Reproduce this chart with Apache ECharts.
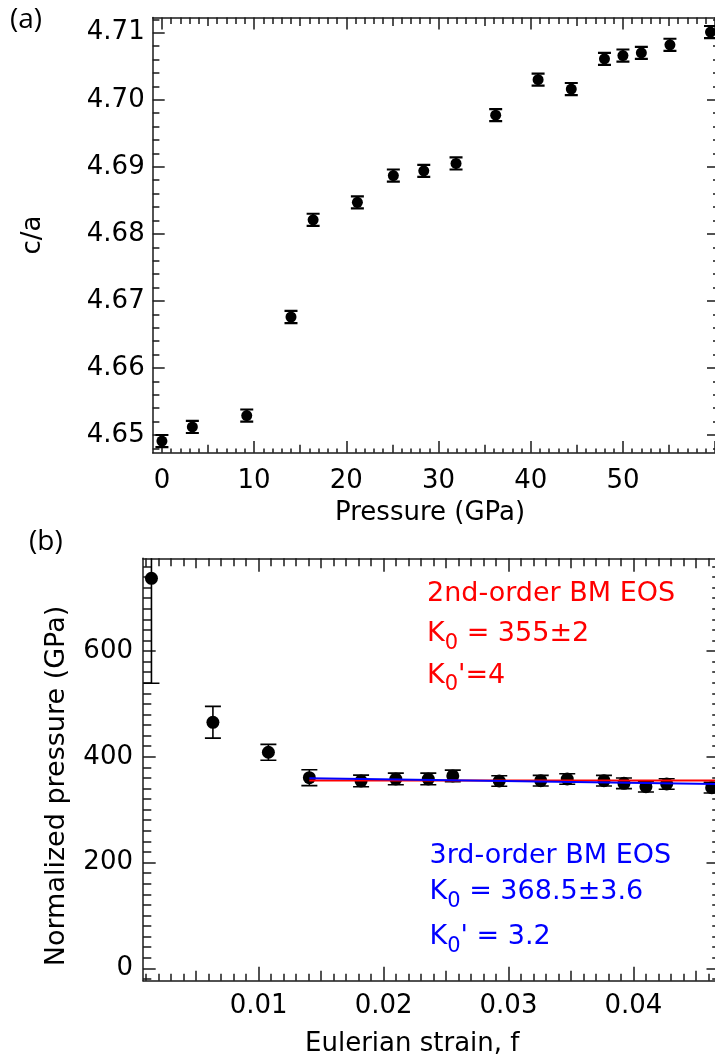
<!DOCTYPE html>
<html>
<head>
<meta charset="utf-8">
<script src="https://cdn.jsdelivr.net/npm/echarts@6/dist/echarts.min.js"></script>
<style>
html,body{margin:0;padding:0;background:#fff;}
#chart{width:715px;height:1064px;}
</style>
</head>
<body>
<div id="chart"></div>
<script>
// ---------- data : panel (a) ----------
const pressureGPa = [0, 3.3, 9.2, 14.0, 16.4, 21.2, 25.1, 28.4, 31.9, 36.2, 40.8, 44.4, 48.0, 50.0, 52.0, 55.1, 59.5];
const caRatio = [4.6491, 4.6512, 4.6529, 4.6676, 4.6821, 4.6847, 4.6887, 4.6894, 4.6905, 4.6977, 4.7030, 4.7016, 4.7061, 4.7066, 4.7070, 4.7082, 4.7101];
const caError = [0.0009, 0.0009, 0.0009, 0.0009, 0.0009, 0.0009, 0.0009, 0.0009, 0.0009, 0.0009, 0.0009, 0.0009, 0.0009, 0.0009, 0.0009, 0.0009, 0.0009];
const pressureTickLabels = [0, 10, 20, 30, 40, 50];
const caTickLabels = [4.65, 4.66, 4.67, 4.68, 4.69, 4.70, 4.71];

// ---------- data : panel (b) ----------
const strainF = [0.00142, 0.00634, 0.01078, 0.01406, 0.0182, 0.02098, 0.02358, 0.02554, 0.02926, 0.03258, 0.0347, 0.03764, 0.03924, 0.0410, 0.04266, 0.04626];
const normPressure = [737.5, 465.2, 408.5, 360.4, 354.2, 358.0, 358.0, 363.7, 354.2, 354.8, 358.0, 354.8, 349.8, 343.4, 348.5, 341.5];
const normPressureErr = [198.5, 30, 15, 15, 11, 11, 11, 11, 10, 10, 10, 10, 10, 10, 10, 10];
const fit2ndOrder = [[0.01406, 355.0], [0.0466, 355.0]];
const fit3rdOrder = [[0.01406, 359.4], [0.0466, 348.4]];
const strainTickLabels = [0.01, 0.02, 0.03, 0.04];
const normPTickLabels = [0, 200, 400, 600];

// ---------- tick positions ----------
function range(a, b, step, dec) {
  const out = [];
  for (let v = a; v <= b + step / 1000; v += step) out.push(+v.toFixed(dec));
  return out;
}
const pTicksMajor = range(0, 60, 10, 0);
const pTicksMed = range(5, 55, 10, 0);
const pTicksMinor = range(0, 60, 1, 0);
const caTicksMajor = caTickLabels;
const caTicksMinor = range(4.648, 4.712, 0.002, 3);
const fTicksMajor = strainTickLabels;
const fTicksMed = range(0.005, 0.045, 0.01, 3);
const fTicksMinor = range(0.001, 0.046, 0.001, 3);
const npTicksMajor = normPTickLabels;
const npTicksMinor = range(-20, 760, 20, 0);

// ---------- layout ----------
const FONT = '"DejaVu Sans", sans-serif';
const AX = '#1a1a1a';
const FS = 26;

const A = {left: 152.7, top: 17.5, width: 563.8, height: 435.2, xmin: -1, xmax: 60.15, ymin: 4.64736, ymax: 4.71227};
const B = {left: 143.0, top: 558.3, width: 573.5, height: 422.4, xmin: 0.000744, xmax: 0.046648, ymin: -23.45, ymax: 775.3};

function mkAxis(grid, pos, min, max, ticks, len, o) {
  o = o || {};
  const ax = {
    type: 'value', gridIndex: grid, position: pos, offset: 0, min: min, max: max,
    axisLine: {show: !!o.line, onZero: false, lineStyle: {color: AX, width: 1.5}},
    axisTick: {show: true, inside: true, length: len, customValues: ticks, lineStyle: {color: AX, width: 1.5}},
    axisLabel: o.labels ? {show: true, customValues: o.labels, formatter: o.fmt, margin: o.margin,
      fontSize: FS, fontFamily: FONT, color: '#000'} : {show: false},
    splitLine: {show: false},
    minorTick: {show: false},
    axisPointer: {show: false}
  };
  if (o.name) {
    ax.name = o.name;
    ax.nameLocation = 'middle';
    ax.nameGap = o.nameGap;
    ax.nameTextStyle = {fontSize: o.nameSize || FS, fontFamily: FONT, color: '#000', padding: o.namePad || 0};
  }
  return ax;
}

const xAxes = [
  mkAxis(0, 'bottom', A.xmin, A.xmax, pTicksMajor, 11.7, {line: true, labels: pressureTickLabels, fmt: v => String(v), margin: 16, name: 'Pressure (GPa)', nameGap: 47.6, namePad: [0, 9, 0, 0]}),
  mkAxis(0, 'bottom', A.xmin, A.xmax, pTicksMed, 8),
  mkAxis(0, 'bottom', A.xmin, A.xmax, pTicksMinor, 4.3),
  mkAxis(0, 'top', A.xmin, A.xmax, pTicksMajor, 12, {line: true}),
  mkAxis(0, 'top', A.xmin, A.xmax, pTicksMed, 8.5),
  mkAxis(0, 'top', A.xmin, A.xmax, pTicksMinor, 6.5),
  mkAxis(1, 'bottom', B.xmin, B.xmax, fTicksMajor, 14, {line: true, labels: strainTickLabels, fmt: v => v.toFixed(2), margin: 13, name: 'Eulerian strain, f', nameGap: 50.6, namePad: [0, 35, 0, 0]}),
  mkAxis(1, 'bottom', B.xmin, B.xmax, fTicksMed, 10),
  mkAxis(1, 'bottom', B.xmin, B.xmax, fTicksMinor, 7),
  mkAxis(1, 'top', B.xmin, B.xmax, fTicksMajor, 13.5, {line: true}),
  mkAxis(1, 'top', B.xmin, B.xmax, fTicksMed, 10),
  mkAxis(1, 'top', B.xmin, B.xmax, fTicksMinor, 8)
];
const yAxes = [
  mkAxis(0, 'left', A.ymin, A.ymax, caTicksMajor, 12, {line: true, labels: caTickLabels, fmt: v => v.toFixed(2), margin: 8, name: 'c/a', nameGap: 106.7}),
  mkAxis(0, 'left', A.ymin, A.ymax, caTicksMinor, 6.7),
  mkAxis(0, 'right', A.ymin, A.ymax, caTicksMajor, 9.5, {line: true}),
  mkAxis(0, 'right', A.ymin, A.ymax, caTicksMinor, 3.5),
  mkAxis(1, 'left', B.ymin, B.ymax, npTicksMajor, 12.7, {line: true, labels: normPTickLabels, fmt: v => String(v), margin: 10, name: 'Normalized pressure (GPa)', nameGap: 72.3, nameSize: 27, namePad: [0, 33, 0, 0]}),
  mkAxis(1, 'left', B.ymin, B.ymax, npTicksMinor, 8.3),
  mkAxis(1, 'right', B.ymin, B.ymax, npTicksMajor, 10, {line: true}),
  mkAxis(1, 'right', B.ymin, B.ymax, npTicksMinor, 4.3)
];

function errRender(r, capW, lw) {
  return function (params, api) {
    const x = api.value(0), y = api.value(1), e = api.value(2);
    const c = api.coord([x, y]);
    const t = api.coord([x, y + e]);
    const b = api.coord([x, y - e]);
    const st = {stroke: '#000', lineWidth: lw};
    return {type: 'group', children: [
      {type: 'line', shape: {x1: c[0], y1: t[1], x2: c[0], y2: b[1]}, style: st},
      {type: 'line', shape: {x1: c[0] - capW, y1: t[1], x2: c[0] + capW, y2: t[1]}, style: st},
      {type: 'line', shape: {x1: c[0] - capW, y1: b[1], x2: c[0] + capW, y2: b[1]}, style: st},
      {type: 'circle', shape: {cx: c[0], cy: c[1], r: r}, style: {fill: '#000'}}
    ]};
  };
}

const dataA = pressureGPa.map((p, i) => [p, caRatio[i], caError[i]]);
const dataB = strainF.map((f, i) => [f, normPressure[i], normPressureErr[i]]);

// ---------- text annotations (with subscript) ----------
const mctx = document.createElement('canvas').getContext('2d');
function measure(t, size, fam) {
  mctx.font = size + 'px ' + fam;
  const m = mctx.measureText(t);
  let off = 0.346 * size;
  if (m.fontBoundingBoxAscent !== undefined) off = (m.fontBoundingBoxAscent - m.fontBoundingBoxDescent) / 2;
  return {w: m.width, off: off};
}
function annot(parts, color, x, baseline, size, subSize, subDrop) {
  const els = [];
  let cx = x;
  parts.forEach(p => {
    const sz = p.sub ? subSize : size;
    const m = measure(p.t, sz, FONT);
    const bl = p.sub ? baseline + subDrop : baseline;
    els.push({type: 'text', x: cx, y: bl - m.off, silent: true,
      style: {text: p.t, fill: color, fontSize: sz, fontFamily: FONT, align: 'left', verticalAlign: 'middle'}});
    cx += m.w;
  });
  return els;
}
const RED = '#ff0000', BLUE = '#0000ff';
const ANN = 27, SUB = 21, DROP = 7;
let graphics = [];
graphics = graphics.concat(
  annot([{t: '2nd-order BM EOS'}], RED, 427, 603, ANN, SUB, DROP),
  annot([{t: 'K'}, {t: '0', sub: true}, {t: ' = 355±2'}], RED, 427, 643.3, ANN, SUB, DROP),
  annot([{t: 'K'}, {t: '0', sub: true}, {t: "'=4"}], RED, 427, 685, ANN, SUB, DROP),
  annot([{t: '3rd-order BM EOS'}], BLUE, 429.5, 865, ANN, SUB, DROP),
  annot([{t: 'K'}, {t: '0', sub: true}, {t: ' = 368.5±3.6'}], BLUE, 429.5, 901.7, ANN, SUB, DROP),
  annot([{t: 'K'}, {t: '0', sub: true}, {t: "' = 3.2"}], BLUE, 429.5, 946.7, ANN, SUB, DROP)
);
const PFONT = '"Open Sans", sans-serif';
graphics.push({type: 'text', x: 10, y: 20, silent: true, style: {text: '(a)', fill: '#000', fontSize: 28, fontFamily: PFONT, align: 'left', verticalAlign: 'middle'}});
graphics.push({type: 'text', x: 29, y: 542, silent: true, style: {text: '(b)', fill: '#000', fontSize: 28, fontFamily: PFONT, align: 'left', verticalAlign: 'middle'}});

const option = {
  animation: false,
  backgroundColor: '#fff',
  grid: [
    {left: A.left, top: A.top, width: A.width, height: A.height, containLabel: false, outerBoundsMode: 'none'},
    {left: B.left, top: B.top, width: B.width, height: B.height, containLabel: false, outerBoundsMode: 'none'}
  ],
  xAxis: xAxes,
  yAxis: yAxes,
  series: [
    {type: 'custom', name: 'c/a', xAxisIndex: 0, yAxisIndex: 0, clip: true, data: dataA,
      renderItem: errRender(5.5, 6.5, 2.2), z: 3},
    {type: 'custom', name: 'F', xAxisIndex: 6, yAxisIndex: 4, clip: true, data: dataB,
      renderItem: errRender(6.5, 8, 1.6), z: 3},
    {type: 'line', name: '2nd-order BM EOS', xAxisIndex: 6, yAxisIndex: 4, data: fit2ndOrder, showSymbol: false,
      lineStyle: {color: RED, width: 2}, itemStyle: {color: RED}, z: 5, silent: true, clip: true},
    {type: 'line', name: '3rd-order BM EOS', xAxisIndex: 6, yAxisIndex: 4, data: fit3rdOrder, showSymbol: false,
      lineStyle: {color: BLUE, width: 2}, itemStyle: {color: BLUE}, z: 6, silent: true, clip: true}
  ],
  graphic: graphics
};
const chart = echarts.init(document.getElementById('chart'), null, {renderer: 'canvas'});
chart.setOption(option);
</script>
</body>
</html>
